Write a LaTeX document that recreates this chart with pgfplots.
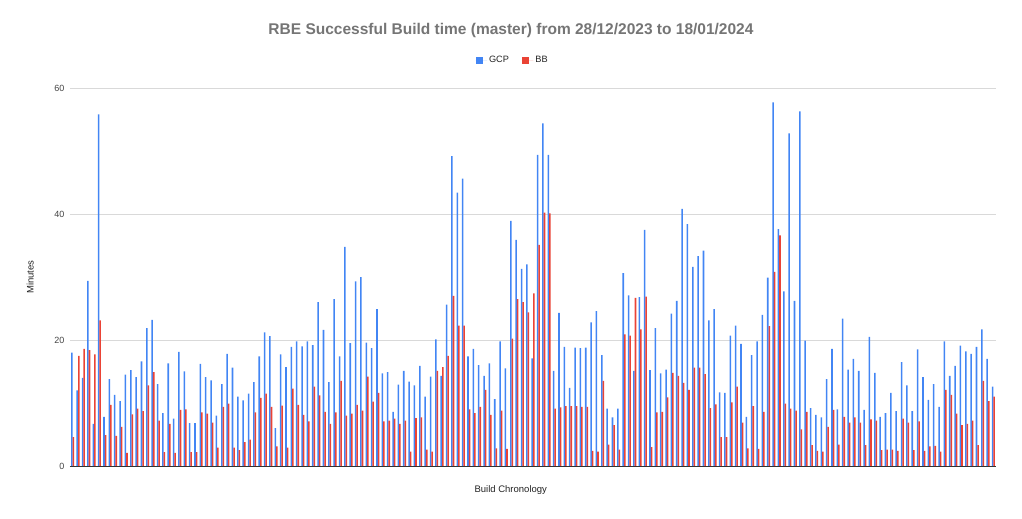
\documentclass[border=0pt]{standalone}
\usepackage{fontspec}
\setmainfont{Liberation Sans}
\usepackage{pgfplots}
\usepackage{pgfplotstable}
\pgfplotsset{compat=1.18}
\definecolor{gcp}{HTML}{4285F4}
\definecolor{bb}{HTML}{EA4335}
\definecolor{titlegray}{HTML}{757575}
\definecolor{ticklab}{HTML}{444444}
\definecolor{labtxt}{HTML}{222222}
\definecolor{gridc}{HTML}{D9D9D9}
\definecolor{basec}{HTML}{333333}
\pgfplotstableread{
x g b
1 18.0 4.6
2 12.0 17.5
3 14.0 18.6
4 29.4 18.4
5 6.7 17.7
6 55.8 23.1
7 7.8 4.9
8 13.8 9.7
9 11.3 4.8
10 10.3 6.2
11 14.5 2.1
12 15.2 8.2
13 14.1 9.1
14 16.6 8.7
15 21.9 12.8
16 23.2 14.9
17 13.0 7.2
18 8.4 2.2
19 16.3 6.7
20 7.5 2.1
21 18.1 8.9
22 15.0 9.0
23 6.8 2.2
24 6.8 2.2
25 16.2 8.5
26 14.1 8.3
27 13.6 6.9
28 8.0 2.9
29 13.0 9.4
30 17.8 9.9
31 15.6 2.9
32 11.0 2.5
33 10.4 3.8
34 11.5 4.2
35 13.3 8.5
36 17.4 10.8
37 21.2 11.5
38 20.6 9.4
39 6.0 3.1
40 17.7 9.6
41 15.7 2.9
42 18.9 12.3
43 19.8 9.7
44 19.0 8.1
45 19.8 7.1
46 19.2 12.6
47 26.0 11.2
48 21.6 8.6
49 13.3 6.7
50 26.5 8.5
51 17.4 13.5
52 34.8 8.0
53 19.5 8.3
54 29.3 9.7
55 30.0 8.8
56 19.6 14.2
57 18.7 10.2
58 24.9 11.6
59 14.7 7.1
60 14.9 7.2
61 8.6 7.5
62 12.9 6.7
63 15.1 7.2
64 13.4 2.3
65 12.8 7.6
66 15.9 7.7
67 11.0 2.6
68 14.2 2.3
69 20.1 15.1
70 14.3 15.7
71 25.6 17.5
72 49.2 27.0
73 43.4 22.3
74 45.6 22.3
75 17.4 9.0
76 18.6 8.4
77 16.0 9.4
78 14.3 12.1
79 16.3 8.1
80 10.6 2.8
81 19.8 8.8
82 15.5 2.7
83 38.9 20.2
84 35.9 26.5
85 31.3 26.0
86 32.0 24.4
87 17.1 27.4
88 49.4 35.1
89 54.4 40.2
90 49.4 40.1
91 15.1 9.1
92 24.3 9.3
93 18.9 9.5
94 12.4 9.5
95 18.8 9.5
96 18.7 9.4
97 18.8 9.4
98 22.8 2.4
99 24.6 2.3
100 17.6 13.5
101 9.1 3.4
102 7.7 6.5
103 9.1 2.6
104 30.6 20.9
105 27.1 20.7
106 15.1 26.7
107 26.8 21.7
108 37.5 26.9
109 15.2 3.0
110 21.9 8.5
111 14.7 8.6
112 15.3 10.9
113 24.2 14.8
114 26.2 14.3
115 40.8 13.2
116 38.4 12.1
117 31.6 15.6
118 33.3 15.6
119 34.2 14.6
120 23.1 9.2
121 24.9 9.8
122 11.7 4.6
123 11.6 4.6
124 20.7 10.1
125 22.3 12.6
126 19.4 6.9
127 7.8 2.8
128 17.6 9.5
129 19.8 2.7
130 24.0 8.6
131 29.9 22.2
132 57.7 30.8
133 37.6 36.6
134 27.7 9.9
135 52.8 9.1
136 26.2 8.8
137 56.3 5.8
138 19.9 8.6
139 9.2 3.3
140 8.1 2.4
141 7.7 2.3
142 13.8 6.2
143 18.6 8.9
144 9.0 3.4
145 23.4 7.8
146 15.3 6.9
147 17.0 7.7
148 15.1 6.9
149 8.9 3.3
150 20.5 7.4
151 14.8 7.2
152 7.8 2.5
153 8.4 2.6
154 11.6 2.6
155 8.7 2.4
156 16.5 7.5
157 12.8 6.9
158 8.7 2.5
159 18.5 7.1
160 14.1 2.4
161 10.5 3.1
162 13.0 3.2
163 9.4 2.3
164 19.8 12.1
165 14.3 11.3
166 15.9 8.3
167 19.1 6.5
168 18.2 6.7
169 17.8 7.2
170 18.9 3.3
171 21.7 13.5
172 17.0 10.3
173 12.6 11.0
}\datatable
\begin{document}
\begin{tikzpicture}
\path[use as bounding box] (0pt,0pt) rectangle (1022pt,519pt);
\begin{axis}[
  at={(70pt,53pt)}, anchor=south west,
  scale only axis, width=926pt, height=378pt,
  xmin=0.5, xmax=173.5, ymin=0, ymax=60,
  ybar=0pt, bar width=1.55pt,
  xtick=\empty, ytick={0,20,40,60},
  ymajorgrids, grid style={gridc, line width=0.8pt},
  axis x line*=bottom, axis y line*=left,
  x axis line style={basec, line width=0.9pt, -},
  y axis line style={draw=none},
  major tick length=0pt,
  /pgf/number format/assume math mode=true,
  yticklabel style={font=\fontsize{9}{10}\selectfont, text=ticklab, xshift=-2pt},
  xlabel={Build Chronology},
  ylabel={Minutes},
  xlabel style={font=\fontsize{9.5}{11}\selectfont, text=labtxt, at={(axis description cs:0.476,-0.064)}, anchor=center},
  ylabel style={font=\fontsize{9.5}{11}\selectfont, text=labtxt, at={(axis description cs:-0.043,0.5)}, anchor=center},
  legend columns=2,
  legend style={draw=none, fill=none, font=\fontsize{9.2}{11}\selectfont, text=labtxt,
    at={(axis description cs:0.478,1.074)}, anchor=center,
    /tikz/every even column/.append style={column sep=11pt}},
  legend image code/.code={\fill[#1] (0pt,-3.5pt) rectangle (7pt,3.5pt); \path (0pt,0pt) -- (11.5pt,0pt);},
]
\addplot[fill=gcp, draw=none] table[x=x, y=g] {\datatable};
\addplot[fill=bb, draw=none] table[x=x, y=b] {\datatable};
\legend{GCP, BB}
\end{axis}
\node[font=\bfseries\fontsize{15.5}{18}\selectfont, text=titlegray] at (511pt,489pt) {RBE Successful Build time (master) from 28/12/2023 to 18/01/2024};
\end{tikzpicture}
\end{document}
